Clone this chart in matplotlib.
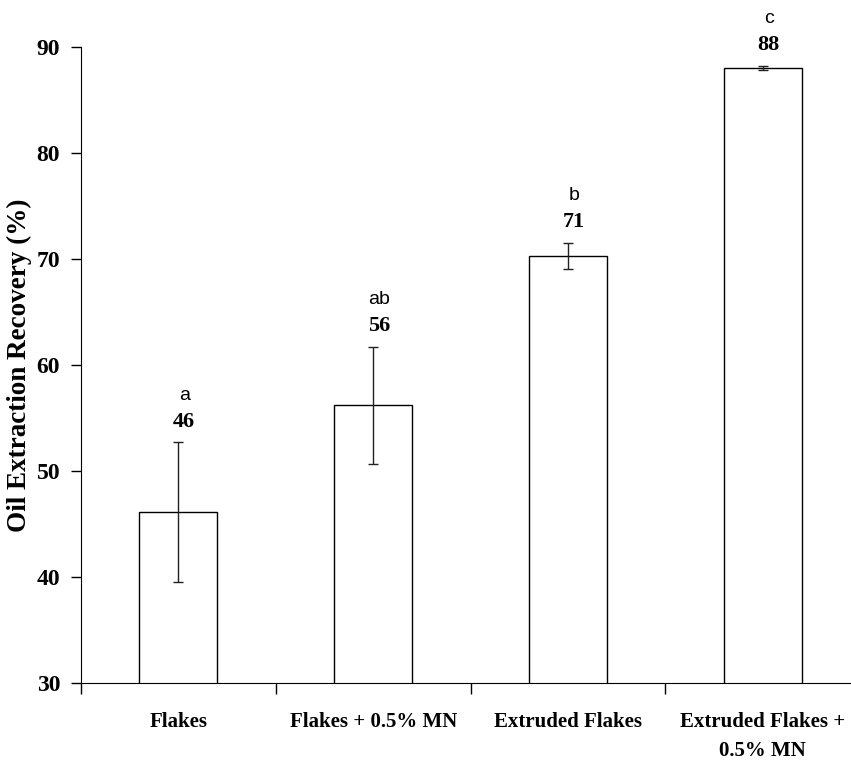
import numpy as np
import matplotlib
matplotlib.use("Agg")
import matplotlib.pyplot as plt

# data
categories = ["Flakes", "Flakes + 0.5% MN", "Extruded Flakes", "Extruded Flakes +\n0.5% MN"]
recovery = [46.1, 56.2, 70.3, 88.0]
errors = [6.6, 5.5, 1.2, 0.2]
value_labels = ["46", "56", "71", "88"]
group_letters = ["a", "ab", "b", "c"]

serif = ["Liberation Serif", "DejaVu Serif"]
sans = ["Liberation Sans", "DejaVu Sans"]

fig = plt.figure(figsize=(8.51, 7.6), dpi=100)
ax = fig.add_axes([0.0952, 0.1013, 0.9155, 0.8367])

x = np.arange(len(categories))
ax.bar(x, recovery, width=0.4, bottom=0, color="white", edgecolor="black",
       linewidth=1.0, zorder=2)
ax.errorbar(x, recovery, yerr=errors, fmt="none", ecolor="#222222",
            elinewidth=1.0, capsize=3.5, capthick=1.0, zorder=3)

# value and significance letters above each error bar
for xi, m, e, v, g in zip(x, recovery, errors, value_labels, group_letters):
    ax.annotate(v, (xi + 0.03, m + e), xytext=(0, 15), textcoords="offset points",
                ha="center", va="center", fontsize=16, fontweight="bold", family=serif)
    ax.annotate(g, (xi + 0.03, m + e), xytext=(0, 34), textcoords="offset points",
                ha="center", va="center", fontsize=14, family=sans)

ax.set_ylim(30, 90)
ax.set_xlim(-0.5, 3.5)
ax.set_yticks(range(30, 91, 10))
ax.set_yticklabels([str(t) for t in range(30, 91, 10)], fontsize=17,
                   fontweight="bold", family=serif)
ax.tick_params(axis="y", direction="out", length=7, width=1, pad=8)

# category boundaries get the tick marks, names sit in between
ax.set_xticks(np.arange(-0.5, 3.6, 1.0))
ax.set_xticklabels([])
ax.tick_params(axis="x", which="major", direction="out", length=8, width=1)
ax.set_xticks(x, minor=True)
ax.set_xticklabels(categories, minor=True, fontsize=15, fontweight="bold",
                   family=serif, linespacing=1.6)
ax.tick_params(axis="x", which="minor", length=0, pad=21)

ax.spines["top"].set_visible(False)
ax.spines["right"].set_visible(False)

ax.set_ylabel("Oil Extraction Recovery (%)", fontsize=19.5, fontweight="bold",
              family=serif)
ax.yaxis.set_label_coords(-0.063, 0.5)

fig.savefig("out.png", dpi=100)
